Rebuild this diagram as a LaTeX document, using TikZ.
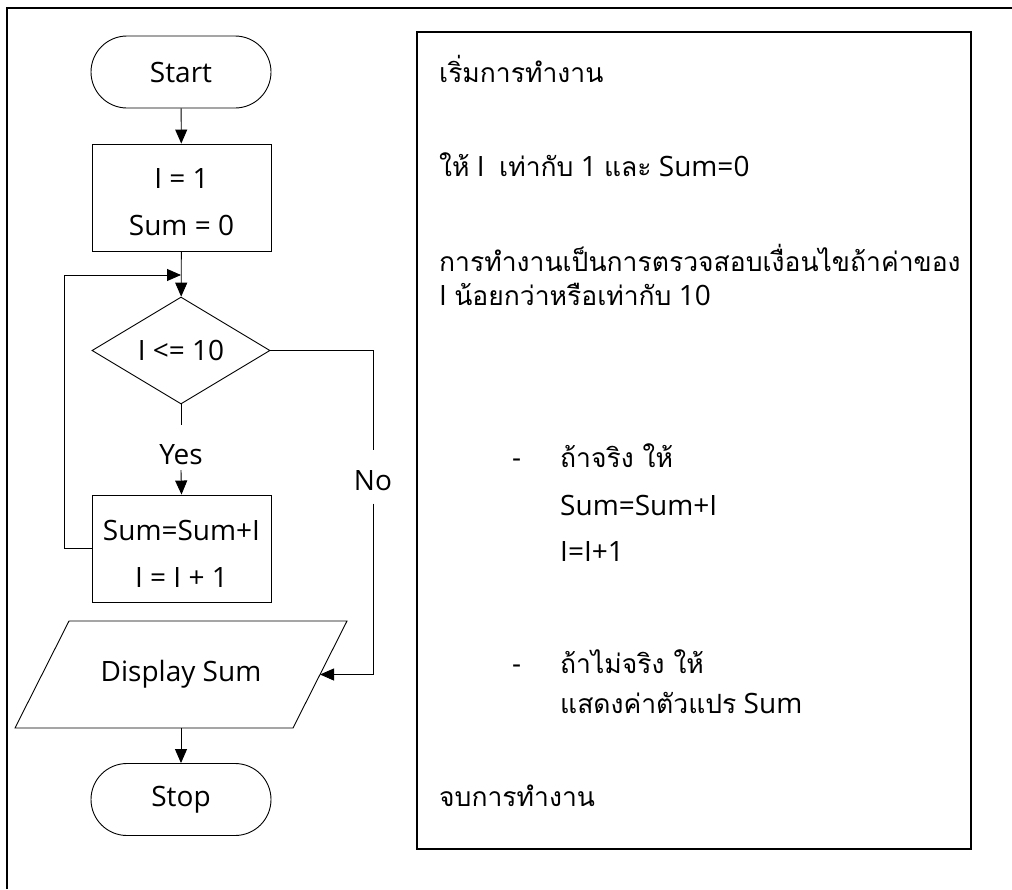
\documentclass[tikz,border=0pt]{standalone}
\usepackage{fontspec}
\setmainfont{Open Sans}
\newfontfamily\thai[Script=Thai]{Loma}
\usetikzlibrary{shapes.geometric,arrows.meta}
\tikzset{
  fc/.style={draw=black, line width=0.9pt, font=\fontsize{28}{32}\selectfont, align=center, inner sep=0pt},
  boxtext/.style={font=\fontsize{28}{32}\selectfont, align=center, inner sep=0pt, yshift=-5pt},
  term/.style={fc, rounded corners=36pt, minimum width=180pt, minimum height=72pt},
  procbox/.style={fc, rectangle, minimum width=179pt, minimum height=107pt},
  decbox/.style={fc, diamond, aspect=1.66, minimum width=178pt, minimum height=107pt},
  iobox/.style={rectangle, inner sep=0pt, minimum width=278pt, minimum height=107pt, font=\fontsize{28}{32}\selectfont},
  lbl/.style={font=\fontsize{28}{32}\selectfont, fill=white, inner sep=0pt},
  conn/.style={line width=0.9pt},
  arr/.style={conn, -{Triangle[length=14pt,width=12pt]}},
  txt/.style={anchor=base west, inner sep=0pt, font=\fontsize{28}{32}\selectfont},
  th/.style={txt, font=\fontsize{26.5}{32}\selectfont\thai}
}
\newcommand{\thw}[1]{{\fontsize{26.5}{32}\selectfont\thai #1}}
\begin{document}
\begin{tikzpicture}[x=1pt, y=-1pt]
\useasboundingbox (0,0) rectangle (1012,889);
% frame
\draw[line width=2.4pt] (7,889) -- (7,8) -- (1012,8);
\draw[line width=2pt] (416.5,32) rectangle (970.5,848.5);
% flowchart
\node[term] (start) at (181,72) {Start};
\node[procbox, label={[boxtext]center:{I = 1\\[15pt]Sum = 0}}] (init) at (181.5,197.5) {};
\node[decbox] (dec) at (181,350.5) {I <= 10};
\node[lbl, minimum height=45pt, minimum width=50pt] (yes) at (181,447.5) {\raisebox{-17pt}[0pt][0pt]{Yes}};
\node[procbox, label={[boxtext]center:{Sum=Sum+I\\[15pt]I = I + 1}}] (body) at (181.5,548.5) {};
\node[iobox] (disp) at (181,674.5) {Display Sum};
\draw[conn] (69,621) -- (347,621) -- (293,728) -- (15,728) -- cycle;
\coordinate (dispE) at (320,674.5);
\node[term] (stop) at (181,799.5) {Stop};
\node[lbl, minimum height=53pt, minimum width=36pt] (no) at (373,477) {\raisebox{-13pt}[0pt][0pt]{No}};
\coordinate (join) at (181,275);
\coordinate (loopx) at (64,548.5);
\draw[arr] (start) -- (init);
\draw[arr] (init) -- (dec);
\draw[conn] (dec.south) -- (yes.north);
\draw[arr] (yes.south) -- (body.north);
\draw[arr] (body.west) -- (loopx) |- (join);
\draw[conn] (dec.east) -| (no.north);
\draw[arr] (no.south) |- (dispE);
\draw[arr] (disp.south) -- (stop);
% description
\node[th] (t1) at (439,82) {เริ่มการทำงาน};
\node[txt] (t2) at (439,176) {\thw{ให้} I\ \ \thw{เท่ากับ} 1 \thw{และ} Sum=0};
\node[th] (t3) at (439,271) {การทำงานเป็นการตรวจสอบเงื่อนไขถ้าค่าของ};
\node[txt] (t4) at (439,305) {I \thw{น้อยกว่าหรือเท่ากับ} 10};
\node[txt] (d1) at (512,467) {-};
\node[th] (t5) at (560,467) {ถ้าจริง ให้};
\node[txt] (t6) at (560,515) {Sum=Sum+I};
\node[txt] (t7) at (560,561) {I=I+1};
\node[txt] (d2) at (512,673) {-};
\node[th] (t8) at (560,673) {ถ้าไม่จริง ให้};
\node[txt] (t9) at (560,713) {\thw{แสดงค่าตัวแปร} Sum};
\node[th] (t10) at (439,806) {จบการทำงาน};
\end{tikzpicture}
\end{document}
